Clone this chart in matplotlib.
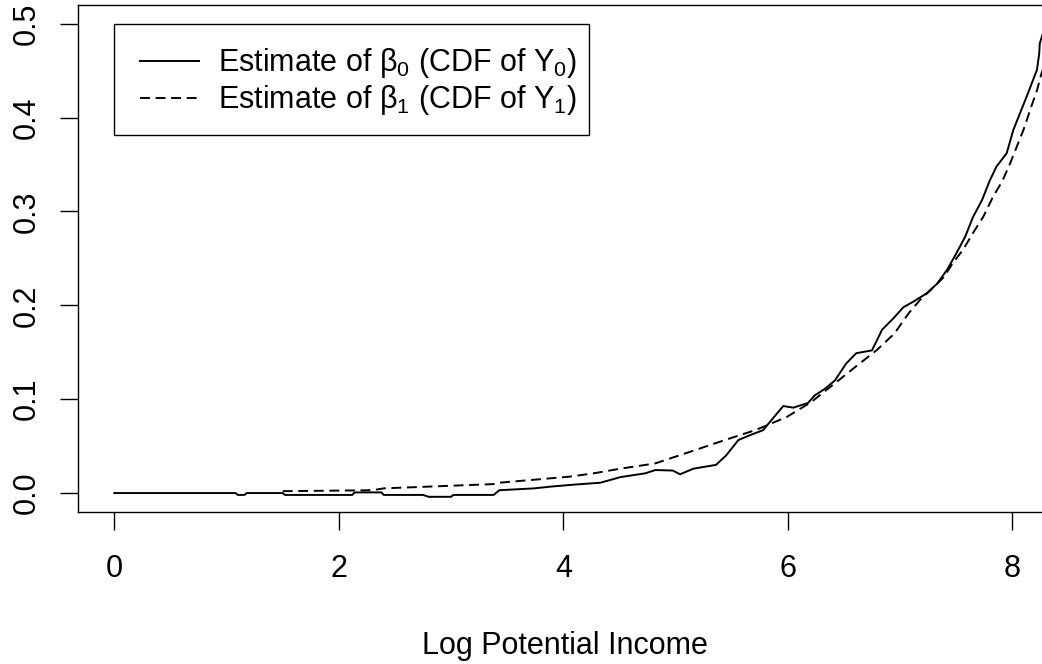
import matplotlib
matplotlib.use("Agg")
import matplotlib.pyplot as plt
from matplotlib.patches import Rectangle
from matplotlib.lines import Line2D

plt.rcParams["font.family"] = ["Liberation Sans", "DejaVu Sans"]
plt.rcParams["mathtext.fontset"] = "custom"
plt.rcParams["mathtext.rm"] = "Liberation Sans"
plt.rcParams["mathtext.default"] = "regular"

# estimate of beta_0 (CDF of Y0), solid
x0 = [0.0, 1.08, 1.10, 1.16, 1.18, 1.50, 1.52, 2.12, 2.14, 2.38, 2.40, 2.75, 2.80,
      3.00, 3.02, 3.38, 3.43, 3.74, 3.90, 4.10, 4.33, 4.51, 4.73, 4.82, 4.975, 5.04,
      5.16, 5.36, 5.45, 5.56, 5.67, 5.78, 5.87, 5.96, 6.05, 6.18, 6.24, 6.33, 6.42,
      6.52, 6.61, 6.75, 6.84, 6.94, 7.03, 7.12, 7.24, 7.33, 7.42, 7.50, 7.58, 7.65,
      7.73, 7.80, 7.86, 7.95, 8.01, 8.07, 8.14, 8.22, 8.24, 8.245, 8.30]
y0 = [0.0, 0.0, -0.002, -0.002, 0.0, 0.0, -0.002, -0.002, 0.0007, 0.0007, -0.002,
      -0.002, -0.004, -0.004, -0.002, -0.002, 0.003, 0.005, 0.007, 0.009, 0.011,
      0.017, 0.021, 0.0245, 0.024, 0.020, 0.026, 0.030, 0.040, 0.0565, 0.062, 0.067,
      0.080, 0.0927, 0.091, 0.096, 0.104, 0.111, 0.120, 0.138, 0.149, 0.152, 0.174,
      0.186, 0.198, 0.204, 0.213, 0.223, 0.238, 0.255, 0.273, 0.294, 0.312, 0.333,
      0.348, 0.362, 0.387, 0.405, 0.426, 0.451, 0.468, 0.479, 0.50]

# estimate of beta_1 (CDF of Y1), dashed
x1 = [1.50, 2.30, 2.40, 3.39, 3.43, 4.05, 4.27, 4.51, 4.82, 5.13, 5.44, 5.71, 5.99,
      6.21, 6.42, 6.64, 6.79, 6.95, 7.08, 7.18, 7.27, 7.39, 7.47, 7.56, 7.65, 7.74,
      7.83, 7.91, 7.98, 8.04, 8.10, 8.17, 8.22, 8.26, 8.30]
y1 = [0.002, 0.003, 0.005, 0.0096, 0.011, 0.0174, 0.021, 0.026, 0.0316, 0.044,
      0.0565, 0.067, 0.081, 0.097, 0.117, 0.138, 0.152, 0.170, 0.192, 0.206, 0.216,
      0.230, 0.245, 0.259, 0.277, 0.294, 0.316, 0.332, 0.351, 0.369, 0.387, 0.412,
      0.429, 0.447, 0.46]

xticks = [0, 2, 4, 6, 8]
yticks = [0.0, 0.1, 0.2, 0.3, 0.4, 0.5]
labels = ["Estimate of β$_0$ (CDF of Y$_0$)", "Estimate of β$_1$ (CDF of Y$_1$)"]

FS = 22
LW = 1.4
dash = (0, (5.1, 2.9))

fig = plt.figure(figsize=(10.42, 6.64), dpi=100)
ax = fig.add_axes([0.0746, 0.2289, 0.935, 0.7643])

ax.plot(x0, y0, color="black", lw=LW)
ax.plot(x1, y1, color="black", lw=LW, linestyle=dash)

ax.set_xlim(-0.326, 8.354)
ax.set_ylim(-0.0202, 0.5205)
ax.set_xticks(xticks)
ax.set_xticklabels([str(t) for t in xticks], fontsize=FS)
ax.set_yticks(yticks)
ax.set_yticklabels([f"{t:.1f}" for t in yticks], fontsize=FS, rotation=90, va="center")
ax.tick_params(length=13, width=1.0, color="black")
ax.tick_params(axis="x", pad=17)
ax.tick_params(axis="y", pad=13)
for s in ax.spines.values():
    s.set_linewidth(1.0)
ax.set_xlabel("Log Potential Income", fontsize=FS, labelpad=34)

# legend box, drawn by hand to match the R layout
tr = ax.transAxes
ax.add_patch(Rectangle((0.0373, 0.7429), 0.5248 - 0.0373, 0.9616 - 0.7429,
                       transform=tr, fill=False, edgecolor="black", lw=1.0))
for ly, ty, ls, lab in [(0.8887, 0.869, "-", labels[0]), (0.8158, 0.7961, dash, labels[1])]:
    ax.add_line(Line2D([0.0639, 0.1247], [ly, ly], transform=tr, color="black",
                       lw=LW, linestyle=ls))
    ax.text(0.1440, ty, lab, transform=tr, fontsize=FS, va="baseline", ha="left")

plt.savefig("out.png", dpi=100)
plt.close()
